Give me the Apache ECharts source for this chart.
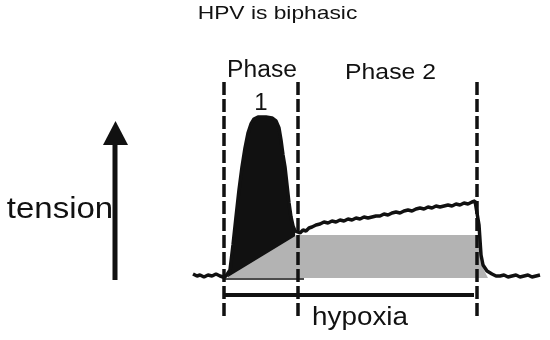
<!DOCTYPE html>
<html>
<head>
<meta charset="utf-8">
<script src="https://cdn.jsdelivr.net/npm/echarts@6/dist/echarts.min.js"></script>
<style>html,body{margin:0;padding:0;background:#fff}#c{width:550px;height:340px}</style>
</head>
<body>
<div id="c"></div>
<script>
// ---- data (time units, tension units) ----
const baselineTrace = [[193,4],[197,2],[200,3],[204,1],[208,3],[212,2],[216,4],[220,2],[223,1],[226,2],[228,2]];
const peakTrace = [[228,2],[230,8],[233,33],[236,61],[239,88],[242,111],[245,130],[248,145],[251,154],[254,159],[258,161],[266,161],[272,160],[276,157],[279,150],[281,138],[283,123],[285,111],[287,93],[289,75],[291,61],[293,52],[295,47],[297,46]];
const plateauTrace = [[297,47],[300,45],[303,48],[306,47],[309,50],[312,51],[316,53],[320,54],[324,56],[328,55],[332,57],[336,56],[340,58],[344,57],[348,59],[352,58],[356,60],[360,59],[364,61],[368,60],[372,61],[376,62],[380,62],[384,64],[388,63],[392,65],[396,66],[400,65],[404,67],[408,68],[412,67],[416,69],[420,70],[424,69],[428,71],[432,70],[436,72],[440,71],[444,72],[448,73],[452,72],[456,74],[460,73],[464,75],[468,74],[472,76],[475,77]];
const recoveryTrace = [[475,77],[477,76],[479,53],[481,23],[483,13],[487,7],[492,4],[496,2],[500,2],[504,3],[508,1],[512,2],[516,3],[520,1],[524,2],[528,3],[532,1],[536,2],[540,3]];
const sustainedArea = [[228,1],[297,43],[477,43],[481,14],[488,0]];
const phaseBoundaries = [224, 298, 477];
const boundaryRange = [-38, 198];
const hypoxiaPeriod = [224, 474];
const hypoxiaLevel = -17;
const phase1Base = [[225,-1],[304,-1]];
const arrowShaft = [[115,-2],[115,138]];
const arrowHead = [[115.5,145]];

const titleText = 'HPV is biphasic';
const phase1Text = 'Phase';
const phase1Num = '1';
const phase2Text = 'Phase 2';
const yText = 'tension';
const barText = 'hypoxia';

const trace = baselineTrace.concat(peakTrace.slice(1), plateauTrace.slice(1), recoveryTrace.slice(1));

const FONT = '"Liberation Sans", Arial, sans-serif';
function txt(str, x, y, fs, sx) {
  return { type: 'text', x: x, y: y, scaleX: sx, silent: true,
    style: { text: str, x: 0, y: 0, font: fs + 'px ' + FONT, fill: '#111', textAlign: 'center', textVerticalAlign: 'middle' } };
}

const series = [];
series.push({ type: 'line', data: peakTrace, symbol: 'none', lineStyle: { width: 0 }, areaStyle: { color: '#111', opacity: 1 }, z: 1, silent: true });
series.push({ type: 'line', data: sustainedArea, symbol: 'none', lineStyle: { width: 0 }, areaStyle: { color: '#b3b3b3', opacity: 1 }, z: 2, silent: true });
series.push({ type: 'line', data: trace, symbol: 'none', lineStyle: { width: 3.5, color: '#111' }, z: 4, silent: true });
phaseBoundaries.forEach(function (t) {
  series.push({ type: 'line', data: [[t, boundaryRange[0]], [t, boundaryRange[1]]], symbol: 'none',
    lineStyle: { width: 3.5, color: '#111', type: [13, 4] }, z: 5, silent: true });
});
series.push({ type: 'line', data: [[hypoxiaPeriod[0], hypoxiaLevel], [hypoxiaPeriod[1], hypoxiaLevel]], symbol: 'none', lineStyle: { width: 4, color: '#111' }, z: 5, silent: true });
series.push({ type: 'line', data: phase1Base, symbol: 'none', lineStyle: { width: 1.5, color: '#111' }, z: 3, silent: true });
series.push({ type: 'line', data: arrowShaft, symbol: 'none', lineStyle: { width: 5, color: '#111' }, z: 5, silent: true });
series.push({ type: 'scatter', data: arrowHead, symbol: 'triangle', symbolSize: [25, 24], itemStyle: { color: '#111', opacity: 1 }, z: 6, silent: true });

const chart = echarts.init(document.getElementById('c'), null, { renderer: 'canvas' });
chart.setOption({
  animation: false,
  backgroundColor: '#fff',
  grid: { left: 0, right: 0, top: 0, bottom: 0 },
  xAxis: { type: 'value', min: 0, max: 550, show: false },
  yAxis: { type: 'value', min: -62, max: 278, show: false },
  series: series,
  graphic: [
    txt(titleText, 277.5, 13.5, 19, 1.2),
    txt(phase1Text, 262, 70.7, 23, 1.07),
    txt(phase1Num, 261, 103.5, 24, 1),
    txt(phase2Text, 390.5, 73, 22.5, 1.1),
    txt(yText, 60, 210, 30, 1.1),
    txt(barText, 360, 317.6, 26, 1.07)
  ]
});
</script>
</body>
</html>
